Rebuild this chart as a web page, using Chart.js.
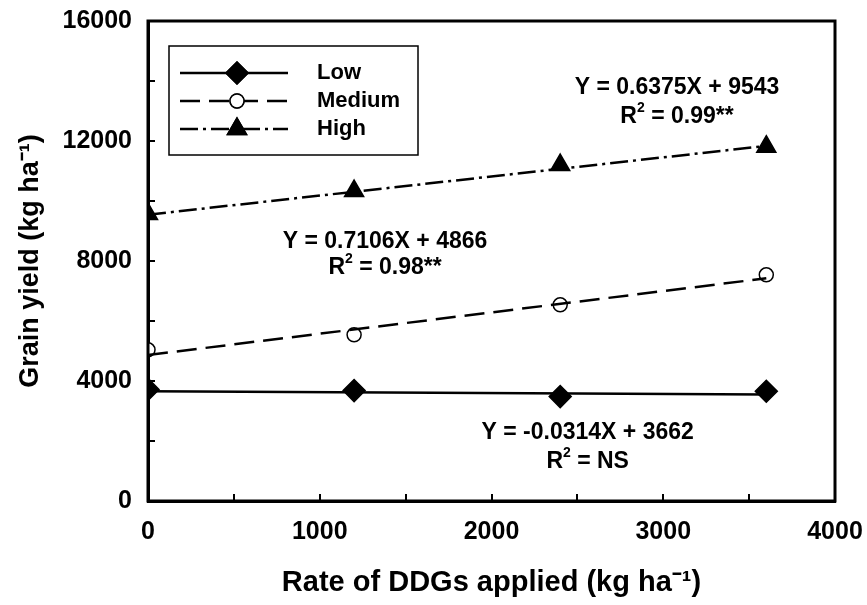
<!DOCTYPE html>
<html>
<head>
<meta charset="utf-8">
<script src="https://cdn.jsdelivr.net/npm/chart.js"></script>
<style>
  body { margin: 0; background: #fff; }
  #wrap { width: 867px; height: 605px; }
</style>
</head>
<body>
<div id="wrap"><canvas id="myChart" width="867" height="605"></canvas></div>
<script>
// rates of DDGs applied (kg/ha)
var rates = [0, 1200, 2400, 3600];
var lowYield = [3720, 3680, 3480, 3660];
var mediumYield = [5040, 5540, 6540, 7540];
var highYield = [9570, 10330, 11200, 11810];
// fitted line ends at x = 0 and x = 3600
var fitX = [0, 3600];
var lowFit = [3662, 3549];
var mediumFit = [4866, 7424];
var highFit = [9543, 11838];
var xTicks = [0, 1000, 2000, 3000, 4000];
var yTicks = [0, 4000, 8000, 12000, 16000];

function pts(xs, ys) {
    var out = [];
    for (i = 0; i < xs.length; i++) {
        out.push({ x: xs[i], y: ys[i] });
    }
    return out;
}

var FONT = "'Liberation Sans', Arial, sans-serif";

var series = [
    { label: 'Low', fit: lowFit, obs: lowYield, dash: [], style: 'rectRot', radius: 11, fill: '#000' },
    { label: 'Medium', fit: mediumFit, obs: mediumYield, dash: [20, 9], style: 'circle', radius: 7, fill: '#fff' },
    { label: 'High', fit: highFit, obs: highYield, dash: [18, 5, 3, 5], style: 'triangle', radius: 11, fill: '#000' }
];

var datasets = [];
series.forEach(function (s) {
    datasets.push({
        type: 'line',
        label: s.label + ' fit',
        data: pts(fitX, s.fit),
        borderColor: '#000',
        borderWidth: 2.5,
        borderDash: s.dash,
        pointRadius: 0,
        fill: false
    });
});
series.forEach(function (s) {
    datasets.push({
        type: 'scatter',
        label: s.label,
        data: pts(rates, s.obs),
        showLine: false,
        pointStyle: s.style,
        pointRadius: s.radius,
        pointHoverRadius: s.radius,
        pointBackgroundColor: s.fill,
        pointBorderColor: '#000',
        pointBorderWidth: 1.5
    });
});

// equation labels, placed in data units; sup = superscript part
var notes = [
    { x: 3080, y: 13770, text: 'Y = 0.6375X + 9543' },
    { x: 3080, y: 12800, text: 'R', sup: '2', rest: ' = 0.99**' },
    { x: 1380, y: 8630, text: 'Y = 0.7106X + 4866' },
    { x: 1380, y: 7770, text: 'R', sup: '2', rest: ' = 0.98**' },
    { x: 2560, y: 2270, text: 'Y = -0.0314X + 3662' },
    { x: 2560, y: 1300, text: 'R', sup: '2', rest: ' = NS' }
];

function drawNote(ctx, n, cx, cy) {
    var big = 'bold 23px ' + FONT, small = 'bold 14px ' + FONT;
    if (!n.sup) {
        ctx.font = big;
        ctx.textAlign = 'center';
        ctx.fillText(n.text, cx, cy);
        return;
    }
    ctx.font = big;
    var w1 = ctx.measureText(n.text).width;
    var w3 = ctx.measureText(n.rest).width;
    ctx.font = small;
    var w2 = ctx.measureText(n.sup).width;
    var x = cx - (w1 + w2 + w3) / 2;
    ctx.textAlign = 'left';
    ctx.font = big;
    ctx.fillText(n.text, x, cy);
    ctx.font = small;
    ctx.fillText(n.sup, x + w1, cy - 9);
    ctx.font = big;
    ctx.fillText(n.rest, x + w1 + w2, cy);
}

var framePlugin = {
    id: 'frame',
    afterDraw: function (chart) {
        var ctx = chart.ctx;
        var a = chart.chartArea;
        var xs = chart.scales.x, ys = chart.scales.y;
        ctx.save();
        // inward ticks
        ctx.strokeStyle = '#000';
        ctx.lineWidth = 2;
        ctx.beginPath();
        for (var v = 500; v < 4000; v += 500) {
            var px = Math.round(xs.getPixelForValue(v));
            ctx.moveTo(px, a.bottom);
            ctx.lineTo(px, a.bottom - 7);
        }
        for (var w = 2000; w < 16000; w += 2000) {
            var py = Math.round(ys.getPixelForValue(w));
            ctx.moveTo(a.left, py);
            ctx.lineTo(a.left + 7, py);
        }
        ctx.stroke();
        // box
        ctx.lineWidth = 3;
        ctx.strokeRect(a.left, a.top, a.right - a.left, a.bottom - a.top);

        // equations
        ctx.fillStyle = '#000';
        ctx.textBaseline = 'middle';
        notes.forEach(function (n) {
            drawNote(ctx, n, xs.getPixelForValue(n.x), ys.getPixelForValue(n.y));
        });

        // legend box
        var lx = a.left + 21, ly = a.top + 25;
        ctx.lineWidth = 1.5;
        ctx.strokeRect(lx, ly, 249, 109);
        ctx.textAlign = 'left';
        ctx.font = 'bold 22px ' + FONT;
        series.forEach(function (s, k) {
            var y = ly + 27 + k * 28;
            ctx.lineWidth = 2.5;
            ctx.setLineDash(s.dash);
            ctx.beginPath();
            ctx.moveTo(lx + 11, y);
            ctx.lineTo(lx + 119, y);
            ctx.stroke();
            ctx.setLineDash([]);
            ctx.fillStyle = s.fill;
            ctx.lineWidth = 1.5;
            Chart.helpers.drawPoint(ctx, { pointStyle: s.style, radius: s.radius, borderWidth: 1.5 }, lx + 68, y);
            ctx.fill();
            ctx.stroke();
            ctx.fillStyle = '#000';
            ctx.fillText(s.label, lx + 148, y);
        });
        ctx.restore();
    }
};

var myChart = document.getElementById('myChart').getContext('2d');

var grainChart = new Chart(myChart, {
    data: { datasets: datasets },
    options: {
        responsive: false,
        animation: false,
        layout: { padding: 0 },
        plugins: {
            legend: { display: false },
            tooltip: { enabled: false }
        },
        scales: {
            x: {
                type: 'linear',
                min: 0,
                max: 4000,
                afterFit: function (scale) {
                    scale.height = 104;
                    scale.paddingLeft = 0;
                    scale.paddingRight = 32;
                },
                afterBuildTicks: function (scale) {
                    scale.ticks = xTicks.map(function (v) { return { value: v }; });
                },
                grid: { display: false, drawTicks: false },
                border: { display: true, color: '#000', width: 3 },
                ticks: {
                    padding: 16,
                    color: '#000',
                    font: { family: FONT, size: 25, weight: 'bold' },
                    callback: function (v) { return String(v); }
                },
                title: {
                    display: true,
                    text: 'Rate of DDGs applied (kg ha⁻¹)',
                    color: '#000',
                    font: { family: FONT, size: 29, weight: 'bold' },
                    padding: { top: 0, bottom: 5 }
                }
            },
            y: {
                type: 'linear',
                min: 0,
                max: 16000,
                afterFit: function (scale) {
                    scale.width = 148;
                    scale.paddingTop = 21;
                    scale.paddingBottom = 0;
                },
                afterBuildTicks: function (scale) {
                    scale.ticks = yTicks.map(function (v) { return { value: v }; });
                },
                grid: { display: false, drawTicks: false },
                border: { display: true, color: '#000', width: 3 },
                ticks: {
                    padding: 16,
                    color: '#000',
                    font: { family: FONT, size: 25, weight: 'bold' },
                    callback: function (v) { return String(v); }
                },
                title: {
                    display: true,
                    text: 'Grain yield (kg ha⁻¹)',
                    color: '#000',
                    font: { family: FONT, size: 27, weight: 'bold' },
                    padding: { top: 14, bottom: 0 }
                }
            }
        }
    },
    plugins: [framePlugin]
});
</script>
</body>
</html>
